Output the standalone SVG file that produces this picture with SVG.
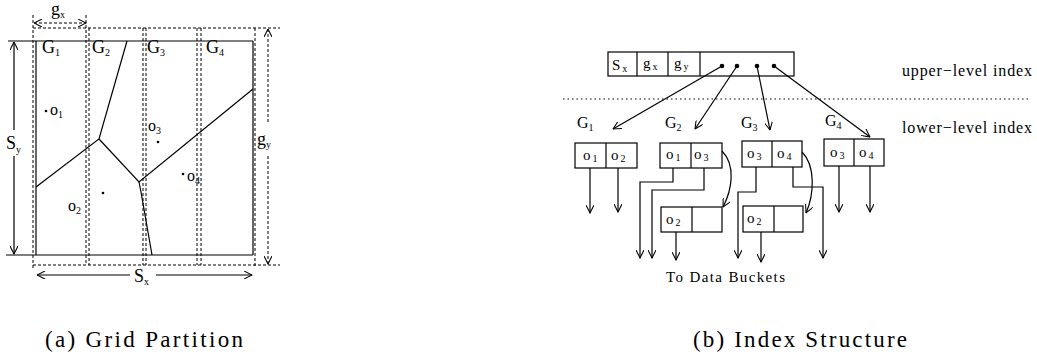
<svg xmlns="http://www.w3.org/2000/svg" width="1037" height="356" viewBox="0 0 1037 356">
<style>
.ln{stroke:#000;stroke-width:1.2;fill:none}
.ds{stroke:#000;stroke-width:1;fill:none;stroke-dasharray:3 2}
.dt{stroke:#000;stroke-width:1;fill:none;stroke-dasharray:1.5 3}
.box{stroke:#000;stroke-width:1.2;fill:#fff}
text{font-family:"Liberation Serif","Times New Roman",serif;fill:#000}
.lbl{font-size:18px}
.pt{font-size:16px}
.cell{font-size:15px}
.glb{font-size:16px}
.side{font-size:16px}
.sub{font-size:10px}
.cap{font-size:23px}
</style>
<defs>
<marker id="ah" viewBox="0 0 10 10" refX="10" refY="5" markerWidth="9" markerHeight="8" orient="auto-start-reverse" markerUnits="userSpaceOnUse">
<path d="M0,0 L10,5 L0,10" fill="none" stroke="#000" stroke-width="1.3"/>
</marker>
</defs>
<rect width="1037" height="356" fill="#fff"/>

<!-- (a) Grid Partition -->
<g id="grid-partition">
<g id="grid-dashed">
<line class="ds" x1="33" y1="28" x2="280" y2="28"/>
<line class="ds" x1="33" y1="265" x2="280" y2="265"/>
<line class="ds" x1="33" y1="15" x2="33" y2="268"/>
<line class="ds" x1="86" y1="15" x2="86" y2="265"/>
<line class="ds" x1="89" y1="28" x2="89" y2="265"/>
<line class="ds" x1="143" y1="28" x2="143" y2="265"/>
<line class="ds" x1="146" y1="28" x2="146" y2="265"/>
<line class="ds" x1="197" y1="28" x2="197" y2="265"/>
<line class="ds" x1="201" y1="28" x2="201" y2="265"/>
<line class="ds" x1="255" y1="28" x2="255" y2="268"/>
</g>
<g id="grid-space">
<line class="ln" x1="8" y1="41" x2="253" y2="41"/>
<line class="ln" x1="6" y1="255" x2="253" y2="255"/>
<line class="ln" x1="36" y1="41" x2="36" y2="255"/>
<line class="ln" x1="253" y1="41" x2="253" y2="255"/>
</g>
<g id="voronoi">
<polyline class="ln" points="127,41 99,139 36,187"/>
<polyline class="ln" points="99,139 139,182 253,89"/>
<polyline class="ln" points="139,182 141,192 152,255"/>
</g>
<g id="dims">
<line class="ln" x1="14" y1="42" x2="14" y2="130" marker-start="url(#ah)"/>
<line class="ln" x1="14" y1="156" x2="14" y2="254" marker-end="url(#ah)"/>
<text class="lbl" x="6" y="149">S<tspan class="sub" dy="4">y</tspan></text>
<line class="ln" x1="37" y1="275" x2="130" y2="275" marker-start="url(#ah)"/>
<line class="ln" x1="156" y1="275" x2="252" y2="275" marker-end="url(#ah)"/>
<text class="lbl" x="134" y="282">S<tspan class="sub" dy="3">x</tspan></text>
<line class="ds" x1="34" y1="23" x2="86" y2="23" marker-start="url(#ah)" marker-end="url(#ah)"/>
<text class="lbl" x="51" y="15">g<tspan class="sub" dy="3">x</tspan></text>
<line class="ds" x1="268" y1="29" x2="268" y2="123" marker-start="url(#ah)"/>
<line class="ds" x1="268" y1="156" x2="268" y2="264" marker-end="url(#ah)"/>
<text class="lbl" x="257" y="145">g<tspan class="sub" dy="3">y</tspan></text>
</g>
<g id="cells-labels">
<text class="lbl" x="42" y="53">G<tspan class="sub" dy="3">1</tspan></text>
<text class="lbl" x="92" y="53">G<tspan class="sub" dy="3">2</tspan></text>
<text class="lbl" x="147" y="53">G<tspan class="sub" dy="3">3</tspan></text>
<text class="lbl" x="206" y="53">G<tspan class="sub" dy="3">4</tspan></text>
</g>
<g id="points">
<circle cx="46" cy="111" r="1.3"/>
<text class="pt" x="50" y="115">o<tspan class="sub" dy="3">1</tspan></text>
<circle cx="158" cy="142" r="1.3"/>
<text class="pt" x="148" y="131">o<tspan class="sub" dy="3">3</tspan></text>
<circle cx="103" cy="193" r="1.3"/>
<text class="pt" x="68" y="211">o<tspan class="sub" dy="3">2</tspan></text>
<circle cx="183" cy="174" r="1.3"/>
<text class="pt" x="187" y="181">o<tspan class="sub" dy="3">4</tspan></text>
</g>
</g>

<!-- (b) Index Structure -->
<g id="upper-index">
<rect class="box" x="608" y="52" width="186" height="24"/>
<line class="ln" x1="637" y1="52" x2="637" y2="76"/>
<line class="ln" x1="668" y1="52" x2="668" y2="76"/>
<line class="ln" x1="700" y1="52" x2="700" y2="76"/>
<text class="cell" x="612" y="70">S<tspan class="sub" dx="2" dy="2">x</tspan></text>
<text class="cell" x="643" y="68">g<tspan class="sub" dx="2" dy="2">x</tspan></text>
<text class="cell" x="674" y="68">g<tspan class="sub" dx="2" dy="2">y</tspan></text>
<circle cx="722" cy="66" r="2.3"/>
<circle cx="737" cy="66" r="2.3"/>
<circle cx="757" cy="66" r="2.3"/>
<circle cx="774" cy="66" r="2.3"/>
</g>
<line id="level-separator" class="dt" x1="563" y1="99" x2="1028" y2="99"/>
<text class="side" x="902" y="76" textLength="130">upper−level index</text>
<text class="side" x="902" y="133" textLength="130">lower−level index</text>

<g id="G1">
<text class="glb" x="577" y="128">G<tspan class="sub" dy="3">1</tspan></text>
<rect class="box" x="575" y="143" width="62" height="25"/>
<line class="ln" x1="606" y1="143" x2="606" y2="168"/>
<text class="cell" x="583" y="160">o<tspan class="sub" dx="2" dy="2">1</tspan></text>
<text class="cell" x="611" y="160">o<tspan class="sub" dx="2" dy="2">2</tspan></text>
</g>
<g id="G2">
<text class="glb" x="665" y="128">G<tspan class="sub" dy="3">2</tspan></text>
<rect class="box" x="660" y="143" width="62" height="25"/>
<line class="ln" x1="691" y1="143" x2="691" y2="168"/>
<text class="cell" x="666" y="159">o<tspan class="sub" dx="2" dy="2">1</tspan></text>
<text class="cell" x="694" y="159">o<tspan class="sub" dx="2" dy="2">3</tspan></text>
</g>
<g id="G2-overflow">
<rect class="box" x="661" y="207" width="61" height="25"/>
<line class="ln" x1="692" y1="207" x2="692" y2="232"/>
<text class="cell" x="666" y="224">o<tspan class="sub" dx="2" dy="2">2</tspan></text>
</g>
<g id="G3">
<text class="glb" x="741" y="128">G<tspan class="sub" dy="3">3</tspan></text>
<rect class="box" x="742" y="141" width="60" height="26"/>
<line class="ln" x1="772" y1="141" x2="772" y2="167"/>
<text class="cell" x="747" y="158">o<tspan class="sub" dx="2" dy="2">3</tspan></text>
<text class="cell" x="777" y="158">o<tspan class="sub" dx="2" dy="2">4</tspan></text>
</g>
<g id="G3-overflow">
<rect class="box" x="743" y="206" width="60" height="26"/>
<line class="ln" x1="774" y1="206" x2="774" y2="232"/>
<text class="cell" x="747" y="223">o<tspan class="sub" dx="2" dy="2">2</tspan></text>
</g>
<g id="G4">
<text class="glb" x="825" y="126">G<tspan class="sub" dy="3">4</tspan></text>
<rect class="box" x="824" y="139" width="60" height="27"/>
<line class="ln" x1="854" y1="139" x2="854" y2="166"/>
<text class="cell" x="830" y="157">o<tspan class="sub" dx="2" dy="2">3</tspan></text>
<text class="cell" x="859" y="157">o<tspan class="sub" dx="2" dy="2">4</tspan></text>
</g>

<g id="connectors">
<line class="ln" x1="722" y1="66" x2="613" y2="129" marker-end="url(#ah)"/>
<line class="ln" x1="737" y1="66" x2="695" y2="129" marker-end="url(#ah)"/>
<line class="ln" x1="757" y1="66" x2="770" y2="130" marker-end="url(#ah)"/>
<line class="ln" x1="774" y1="66" x2="870" y2="137" marker-end="url(#ah)"/>
<line class="ln" x1="590" y1="168" x2="590" y2="213" marker-end="url(#ah)"/>
<line class="ln" x1="618" y1="168" x2="618" y2="212" marker-end="url(#ah)"/>
<polyline class="ln" points="673,168 673,182 640,182 640,258" marker-end="url(#ah)"/>
<polyline class="ln" points="704,168 704,190 652,190 652,258" marker-end="url(#ah)"/>
<path class="ln" d="M722,151 C736,165 732,190 723,207" marker-end="url(#ah)"/>
<line class="ln" x1="676" y1="232" x2="676" y2="260" marker-end="url(#ah)"/>
<polyline class="ln" points="756,167 756,192 738,192 738,258" marker-end="url(#ah)"/>
<polyline class="ln" points="793,167 793,187 823,187 823,258" marker-end="url(#ah)"/>
<path class="ln" d="M802,152 C816,166 814,195 806,213" marker-end="url(#ah)"/>
<line class="ln" x1="761" y1="232" x2="761" y2="262" marker-end="url(#ah)"/>
<line class="ln" x1="839" y1="166" x2="839" y2="212" marker-end="url(#ah)"/>
<line class="ln" x1="870" y1="166" x2="870" y2="212" marker-end="url(#ah)"/>
</g>
<text class="cell" x="666" y="282" textLength="119">To Data Buckets</text>

<text class="cap" x="45" y="347" textLength="198">(a) Grid Partition</text>
<text class="cap" x="693" y="347" textLength="214">(b) Index Structure</text>
</svg>
